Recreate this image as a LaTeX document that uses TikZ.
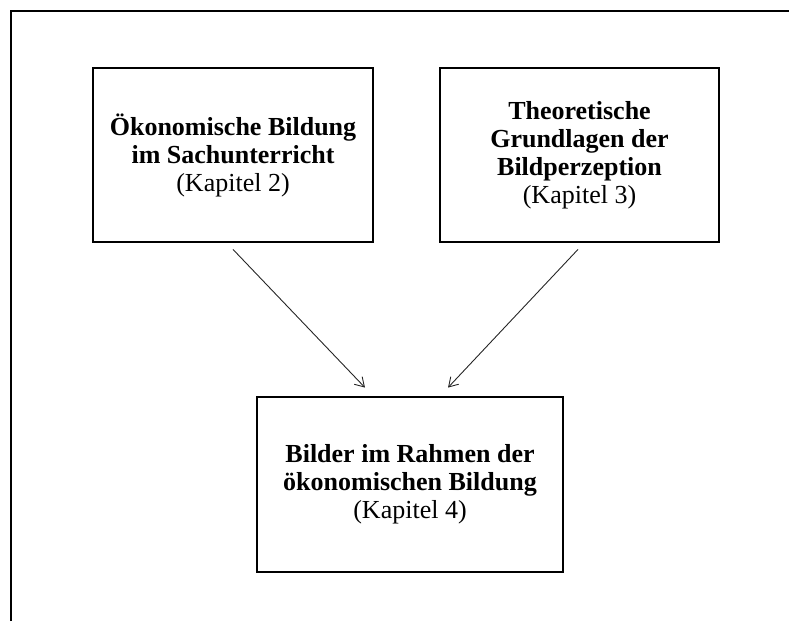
\documentclass[tikz,border=0pt]{standalone}
\usepackage{fontspec}
\setmainfont{Liberation Serif}
\usetikzlibrary{arrows.meta}
\begin{document}
\begin{tikzpicture}[x=1pt,y=-1pt,
  kbox/.style={draw, line width=2.8pt, inner sep=0pt, align=center,
    font=\fontsize{26}{28}\selectfont},
  conn/.style={line width=0.9pt, draw=black!85,
    -{Straight Barb[length=9pt,width=11pt,line width=0.9pt]}},
  frameline/.style={line width=2.2pt}]
\useasboundingbox (0,0) rectangle (789,621);
\coordinate (fbl) at (11,621);
\coordinate (ftl) at (11,11);
\coordinate (ftr) at (789,11);
\draw[frameline] (fbl) -- (ftl) -- (ftr);
\node[kbox, minimum width=280pt, minimum height=174pt] (b1) at (233,155)
  {\textbf{Ökonomische Bildung}\\\textbf{im Sachunterricht}\\(Kapitel 2)};
\node[kbox, minimum width=279pt, minimum height=174pt] (b2) at (579.5,155)
  {\textbf{Theoretische}\\\textbf{Grundlagen der}\\\textbf{Bildperzeption}\\(Kapitel 3)};
\node[kbox, minimum width=306pt, minimum height=175pt] (b3) at (410,484.5)
  {\textbf{Bilder im Rahmen der}\\\textbf{ökonomischen Bildung}\\(Kapitel 4)};
\draw[conn] ([yshift=-6pt]b1.south) -- ([xshift=-45pt,yshift=8pt]b3.north);
\draw[conn] ([xshift=-1.5pt,yshift=-6pt]b2.south) -- ([xshift=38pt,yshift=8pt]b3.north);
\end{tikzpicture}
\end{document}
